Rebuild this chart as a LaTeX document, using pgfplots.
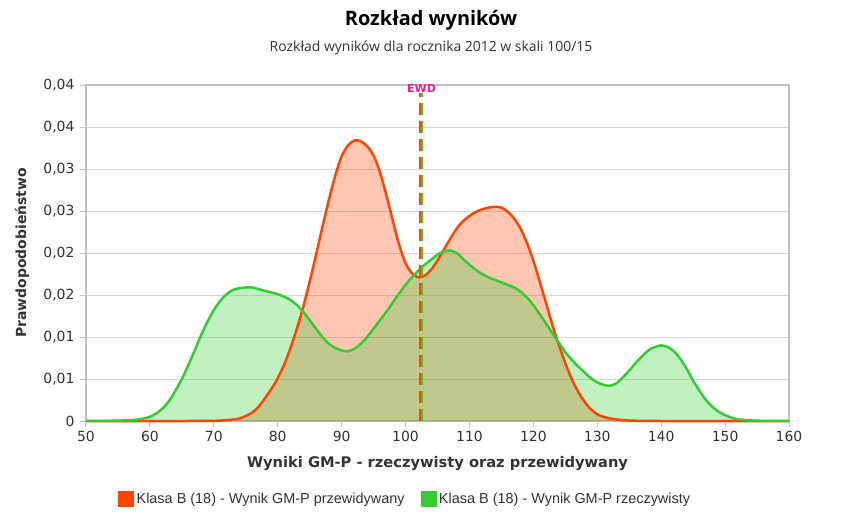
\documentclass[border=0pt]{standalone}
\usepackage{pgfplots}
\pgfplotsset{compat=1.18}
\usepackage{fontspec}
\setmainfont{DejaVu Sans}
\newfontfamily\titlefont{Open Sans}
\newfontfamily\legendfont{Liberation Sans}
\definecolor{orangeline}{RGB}{255,69,0}
\definecolor{greenline}{RGB}{51,204,51}
\definecolor{ewdpink}{RGB}{255,20,147}
\definecolor{txt}{RGB}{51,51,51}
\definecolor{gridc}{RGB}{216,216,216}
\definecolor{axisc}{RGB}{192,192,192}

\pgfplotstableread{
x y
50 0
60 0
66 0
70 0.00002
72 0.0001
73 0.00018
74 0.0003
75 0.0006
76 0.001
77 0.0017
78 0.0027
79 0.0038
80 0.0051
81 0.0067
82 0.0087
83 0.0110
84 0.0136
85 0.0166
86 0.0198
87 0.0231
88 0.0263
89 0.0292
90 0.0315
91 0.0328
92 0.0334
93 0.0333
94 0.0327
95 0.0316
96 0.0296
97 0.0269
98 0.0239
99 0.0210
100 0.0188
101 0.0176
102 0.0171
103 0.0173
104 0.0180
105 0.0191
106 0.0204
107 0.0217
108 0.0229
109 0.0238
110 0.0244
111 0.0249
112 0.0252
113 0.0254
114 0.0255
115 0.0254
116 0.0249
117 0.0241
118 0.0229
119 0.0212
120 0.0191
121 0.0166
122 0.0140
123 0.0114
124 0.0090
125 0.0069
126 0.0050
127 0.0035
128 0.0023
129 0.0014
130 0.0008
131 0.0005
132 0.0003
134 0.0001
136 0.00003
140 0
160 0
}\predicted

\pgfplotstableread{
x y
50 0
54 0.00003
56 0.00007
57 0.0001
58 0.00017
59 0.0003
60 0.0005
61 0.0009
62 0.0015
63 0.0024
64 0.0036
65 0.0050
66 0.0066
67 0.0084
68 0.0102
69 0.0118
70 0.0132
71 0.0143
72 0.0151
73 0.0156
74 0.0158
75 0.0159
76 0.0159
77 0.0157
78 0.0155
79 0.0153
80 0.0151
81 0.0148
82 0.0144
83 0.0138
84 0.0130
85 0.0120
86 0.0110
87 0.0100
88 0.0092
89 0.0087
90 0.0084
91 0.0083
92 0.0086
93 0.0092
94 0.0100
95 0.0110
96 0.0120
97 0.0130
98 0.0141
99 0.0152
100 0.0162
101 0.0171
102 0.0179
103 0.0186
104 0.0192
105 0.0198
106 0.0202
107 0.0203
108 0.0200
109 0.0193
110 0.0186
111 0.0180
112 0.0175
113 0.0171
114 0.0168
115 0.0165
116 0.0162
117 0.0159
118 0.0154
119 0.0147
120 0.0138
121 0.0127
122 0.0116
123 0.0104
124 0.0093
125 0.0082
126 0.0073
127 0.0065
128 0.0058
129 0.0051
130 0.0046
131 0.0043
132 0.0042
133 0.0045
134 0.0052
135 0.0060
136 0.0069
137 0.0077
138 0.0084
139 0.0088
140 0.0090
141 0.0088
142 0.0083
143 0.0074
144 0.0062
145 0.0048
146 0.0036
147 0.0025
148 0.0017
149 0.0011
150 0.0007
151 0.0004
152 0.0002
154 0.00007
156 0.00002
160 0
}\actual

\begin{document}
\begin{tikzpicture}
\useasboundingbox (-86bp,-107bp) rectangle (776bp,421bp);
\begin{axis}[
  at={(0,0)}, anchor=south west,
  scale only axis, width=703bp, height=336bp,
  xmin=50, xmax=160, ymin=0, ymax=0.04,
  xtick={50,60,...,160},
  ytick={0,0.005,0.01,0.015,0.02,0.025,0.03,0.035,0.04},
  yticklabels={0,{0,01},{0,01},{0,02},{0,02},{0,03},{0,03},{0,04},{0,04}},
  scaled y ticks=false,
  /pgf/number format/assume math mode=true,
  ymajorgrids, grid style={gridc, line width=0.8bp},
  axis line style={axisc, line width=1.2bp},
  tick pos=left, tick align=outside, major tick length=6bp,
  tick style={axisc, line width=1bp},
  ticklabel style={font=\fontsize{14}{16}\selectfont, text=txt},
  yticklabel style={xshift=-2bp},
  xticklabel style={yshift=-1bp},
  xlabel={Wyniki GM-P - rzeczywisty oraz przewidywany},
  ylabel={Prawdopodobieństwo},
  every axis x label/.style={at={(rel axis cs:0.5,-0.128)}, anchor=center, font=\bfseries\fontsize{14.7}{16}\selectfont, text=txt},
  every axis y label/.style={at={(rel axis cs:-0.091,0.5)}, rotate=90, anchor=center, font=\bfseries\fontsize{14}{16}\selectfont, text=txt},
  clip=false,
  legend style={at={(rel axis cs:0.454,-0.232)}, anchor=center, draw=none, fill=none,
    legend columns=2, font=\legendfont\fontsize{14.5}{16}\selectfont, text=txt,
    /tikz/every odd column/.append style={column sep=1bp},
    /tikz/every even column/.append style={column sep=14bp}},
  legend image code/.code={\fill[#1] (0bp,-7.5bp) rectangle (15bp,7.5bp);},
  legend cell align=left,
]
\addplot[draw=none, fill=orangeline, fill opacity=0.3, smooth, forget plot] table[x=x,y=y] {\predicted} \closedcycle;
\addplot[draw=none, fill=greenline, fill opacity=0.3, smooth, forget plot] table[x=x,y=y] {\actual} \closedcycle;
\addplot[orangeline, line width=2.5bp, smooth, forget plot] table[x=x,y=y] {\predicted};
\addplot[greenline, line width=2.5bp, smooth, forget plot] table[x=x,y=y] {\actual};
\addplot[orangeline, line width=2.4bp, dash pattern=on 12bp off 6bp, forget plot] coordinates {(102.3,0) (102.3,0.039)};
\addplot[greenline, line width=2.4bp, dash pattern=on 12bp off 6bp, forget plot] coordinates {(102.6,0) (102.6,0.039)};
\addlegendimage{orangeline}
\addlegendentry{Klasa B (18) - Wynik GM-P przewidywany}
\addlegendimage{greenline}
\addlegendentry{Klasa B (18) - Wynik GM-P rzeczywisty}
\node[text=ewdpink, font=\bfseries\fontsize{11}{12}\selectfont] at (axis cs:102.5,0.0396) {EWD};
\node[font=\titlefont\bfseries\fontsize{20}{23}\selectfont, text=black] at (rel axis cs:0.4908,1.1935) {Rozkład wyników};
\node[font=\titlefont\fontsize{14}{16}\selectfont, text=txt] at (rel axis cs:0.4908,1.110) {Rozkład wyników dla rocznika 2012 w skali 100/15};
\end{axis}
\end{tikzpicture}
\end{document}
